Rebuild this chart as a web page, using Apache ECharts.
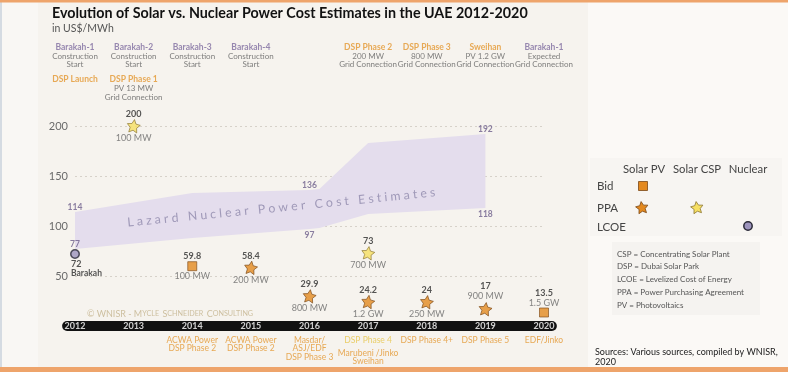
<!DOCTYPE html>
<html><head><meta charset="utf-8">
<script src="https://cdn.jsdelivr.net/npm/echarts@6/dist/echarts.min.js"></script>
<style>html,body{margin:0;padding:0;background:#f6f3ee}#c{width:788px;height:372px}</style>
</head><body><div id="c"></div>
<script>
// ---------------- data ----------------
const years = [2012, 2013, 2014, 2015, 2016, 2017, 2018, 2019, 2020];
const yTicks = [50, 100, 150, 200];

// Lazard nuclear cost band (low / high), US$/MWh
const bandX    = [2012, 2014, 2016, 2016.17, 2017, 2019];
const bandLow  = [77, 88, 97, 98, 112, 118];
const bandHigh = [114, 133, 136, 137, 183, 192];
const bandLabelled = [2012, 2016, 2019];

// Solar PV bids
const pvBidYears  = [2014, 2020];
const pvBidValues = [59.8, 13.5];
const pvBidSizes  = ['100 MW', '1.5 GW'];
// Solar PV PPAs
const pvPpaYears  = [2015, 2016, 2017, 2018, 2019];
const pvPpaValues = [58.4, 29.9, 24.2, 24, 17];
const pvPpaSizes  = ['200 MW', '800 MW', '1.2 GW', '250 MW', '900 MW'];
// Solar CSP PPAs
const cspPpaYears  = [2013, 2017];
const cspPpaValues = [200, 73];
const cspPpaSizes  = ['100 MW', '700 MW'];
// Nuclear LCOE
const nucYears  = [2012];
const nucValues = [72];
const nucNames  = ['Barakah'];

// Milestones shown above the chart
const milestoneYears   = [2012, 2013, 2014, 2015, 2017, 2018, 2019, 2020];
const milestoneNuclear = [
  ['Barakah-1', 'Construction', 'Start'],
  ['Barakah-2', 'Construction', 'Start'],
  ['Barakah-3', 'Construction', 'Start'],
  ['Barakah-4', 'Construction', 'Start'],
  null, null, null,
  ['Barakah-1', 'Expected', 'Grid Connection']
];
const milestoneSolar = [
  ['DSP Launch'],
  ['DSP Phase 1', 'PV 13 MW', 'Grid Connection'],
  null, null,
  ['DSP Phase 2', '200 MW', 'Grid Connection'],
  ['DSP Phase 3', '800 MW', 'Grid Connection'],
  ['Sweihan', 'PV 1.2 GW', 'Grid Connection'],
  null
];

// Project names under the timeline
const projectYears = [2014, 2015, 2016, 2017, 2018, 2019, 2020];
const projectCsp = [null, null, null, ['DSP Phase 4'], null, null, null];
const projectPv  = [
  ['ACWA Power', 'DSP Phase 2'],
  ['ACWA Power', 'DSP Phase 2'],
  ['Masdar/', 'ASJ/EDF', 'DSP Phase 3'],
  ['Marubeni /Jinko', 'Sweihan'],
  ['DSP Phase 4+'],
  ['DSP Phase 5'],
  ['EDF/Jinko']
];

const definitions = [
  'CSP = Concentrating Solar Plant',
  'DSP = Dubai Solar Park',
  'LCOE = Levelized Cost of Energy',
  'PPA = Power Purchasing Agreement',
  'PV = Photovoltaics'
];

// ---------------- styles ----------------
const FONT = 'Lato, "Noto Sans", sans-serif';
const STAR = 'path://M50,0L64.69,29.78L97.55,34.55L73.78,57.73L79.39,90.45L50,75L20.61,90.45L26.22,57.73L2.45,34.55L35.31,29.78Z';
const C = {
  orange: '#e3891f', orangeBorder: '#7a4716',
  yellow: '#f6df62', yellowBorder: '#8a7430',
  nuc: '#9d94bd', nucBorder: '#2b2a38',
  band: '#e4dded', bandText: '#6d5e8b',
  purple: '#7e6b9f', orangeText: '#e3962e', yellowText: '#e6c447',
  gray: '#666', dark: '#2a2a2a'
};
const HIDDEN = { color: 'rgba(0,0,0,0)' };

const valueRich = {
  v: { fontFamily: FONT, fontSize: 9, fontWeight: 'bold', color: C.dark, lineHeight: 10, align: 'center' },
  c: { fontFamily: FONT, fontSize: 9, color: C.gray, lineHeight: 10, align: 'center' },
  g: { fontSize: 1, lineHeight: 14 },
  gs: { fontSize: 1, lineHeight: 10 }
};

function pointData(xs, vs, sizes, gapKey) {
  return xs.map((x, i) => {
    const v = vs[i];
    if (v < 20) {
      return { value: [x, v], label: { position: 'top', distance: 0, formatter: `{v|${v}}\n{c|${sizes[i]}}` } };
    }
    return { value: [x, v], label: { position: 'inside', formatter: `{v|${v}}\n{${gapKey}| }\n{c|${sizes[i]}}` } };
  });
}

// milestone labels
const msRich = {
  p: { fontFamily: FONT, fontSize: 8.5, fontWeight: 'bold', color: C.purple, lineHeight: 8.7, align: 'center' },
  o: { fontFamily: FONT, fontSize: 8.5, fontWeight: 'bold', color: C.orangeText, lineHeight: 8.7, align: 'center' },
  g: { fontFamily: FONT, fontSize: 8, color: '#606060', lineHeight: 8.7, align: 'center' },
  s: { fontSize: 1, lineHeight: 6.3 }
};
function block(lines, head) {
  return lines.map((t, i) => `{${i === 0 ? head : 'g'}|${t}}`);
}
const msData = milestoneYears.map((y, i) => {
  let parts = [];
  if (milestoneNuclear[i]) parts = parts.concat(block(milestoneNuclear[i], 'p'));
  if (milestoneSolar[i]) {
    if (parts.length) parts.push('{s| }');
    parts = parts.concat(block(milestoneSolar[i], 'o'));
  }
  return { value: [y, 1], label: { formatter: parts.join('\n') } };
});

const prRich = {
  o: { fontFamily: FONT, fontSize: 8.5, color: C.orangeText, lineHeight: 8.5, align: 'center' },
  y: { fontFamily: FONT, fontSize: 8.5, color: C.yellowText, lineHeight: 8.5, align: 'center' },
  s: { fontSize: 1, lineHeight: 4.5 }
};
const prData = projectYears.map((y, i) => {
  let parts = [];
  if (projectCsp[i]) parts = parts.concat(projectCsp[i].map(t => `{y|${t}}`));
  if (projectPv[i]) {
    if (parts.length) parts.push('{s| }');
    parts = parts.concat(projectPv[i].map(t => `{o|${t}}`));
  }
  return { value: [y, 0], label: { formatter: parts.join('\n') } };
});

// band labels
const bandLabelData = [];
bandX.forEach((x, i) => {
  if (!bandLabelled.includes(x)) return;
  bandLabelData.push({ value: [x, bandHigh[i]], label: { position: 'top', distance: 0, formatter: String(bandHigh[i]) } });
  const lowAbove = nucYears.includes(x);
  bandLabelData.push({ value: [x, bandLow[i]], label: { position: lowAbove ? 'top' : 'bottom', distance: lowAbove ? 0 : 1, formatter: String(bandLow[i]) } });
});

const lazardText = 'Lazard Nuclear Power Cost Estimates'.split(' ').map(w => w.split('').join(' ')).join('   ');

// legend drawing helpers
function starShape(cx, cy, s, fill, stroke) {
  const pts = [];
  for (let k = 0; k < 10; k++) {
    const ang = (-90 - 8 + k * 36) * Math.PI / 180;
    const rad = (k % 2 === 0 ? 1 : 0.5) * s / 2;
    pts.push([cx + rad * Math.cos(ang), cy + 2 + rad * Math.sin(ang)]);
  }
  return { type: 'polygon', shape: { points: pts }, style: { fill, stroke, lineWidth: 0.8 } };
}
function txt(x, y, text, size, color, extra) {
  return { type: 'text', x, y, style: Object.assign({ text, font: `${size}px ${FONT}`, fill: color, textVerticalAlign: 'middle' }, extra || {}) };
}

const graphics = [
  { type: 'rect', shape: { x: 0, y: 0, width: 38, height: 372 }, style: { fill: '#f9f7f4' }, z: -20 },
  { type: 'rect', shape: { x: 0, y: 0, width: 2, height: 372 }, style: { fill: '#d5dbe2' }, z: -19 },
  { type: 'rect', shape: { x: 588, y: 2, width: 200, height: 366 }, style: { fill: '#fbf9f6' }, z: -20 },
  { type: 'rect', shape: { x: 590, y: 158, width: 192, height: 78 }, style: { fill: '#f7f5f2' }, z: -19 },
  { type: 'rect', shape: { x: 612, y: 242, width: 148, height: 73 }, style: { fill: '#f5f3f0' }, z: -19 },
  { type: 'rect', shape: { x: 0, y: 0, width: 788, height: 2.5 }, style: { fill: '#eea46b' }, z: 10 },
  { type: 'rect', shape: { x: 0, y: 367, width: 788, height: 5 }, style: { fill: '#eea46b' }, z: 10 },
  // legend table
  txt(644, 169, 'Solar PV', 11.3, '#444', { textAlign: 'center' }),
  txt(697, 169, 'Solar CSP', 11.3, '#444', { textAlign: 'center' }),
  txt(748, 169, 'Nuclear', 11.3, '#444', { textAlign: 'center' }),
  txt(597, 186, 'Bid', 11.5, '#444'),
  txt(597, 208, 'PPA', 11.5, '#444'),
  txt(597, 227, 'LCOE', 11.5, '#444'),
  { type: 'rect', shape: { x: 638.5, y: 181.5, width: 9, height: 9 }, style: { fill: C.orange, stroke: C.orangeBorder, lineWidth: 0.8 } },
  starShape(642, 206, 13, C.orange, C.orangeBorder),
  starShape(697, 206, 13, C.yellow, C.yellowBorder),
  { type: 'circle', shape: { cx: 748, cy: 226, r: 4.2 }, style: { fill: C.nuc, stroke: C.nucBorder, lineWidth: 1.5 } },
  // watermark
  { type: 'text', x: 170, y: 314, style: { text: '{a|© WNISR - M}{b|YCLE} {a|S}{b|CHNEIDER} {a|C}{b|ONSULTING}', textAlign: 'center', textVerticalAlign: 'middle',
      rich: { a: { fontFamily: FONT, fontSize: 9, fill: '#cdbf9f', color: '#cdbf9f' }, b: { fontFamily: FONT, fontSize: 7.2, fill: '#cdbf9f', color: '#cdbf9f' } } } },
  // sources
  txt(595, 352, 'Sources: Various sources, compiled by WNISR,', 9, '#222'),
  txt(595, 362, '2020', 9, '#222')
];
definitions.forEach((d, i) => graphics.push(txt(617, 254 + i * 12.75, d, 8, '#555')));

const option = {
  backgroundColor: '#f6f3ee',
  animation: false,
  title: [
    { text: 'Evolution of Solar vs. Nuclear Power Cost Estimates in the UAE 2012-2020', left: 47, top: 1,
      textStyle: { fontFamily: FONT, fontSize: 14.3, fontWeight: 'bold', color: '#111' } },
    { text: 'in US$/MWh', left: 47, top: 18, textStyle: { fontFamily: FONT, fontSize: 10.5, fontWeight: 'normal', color: '#555' } }
  ],
  graphic: { elements: graphics },
  grid: [
    { left: 75, right: 244, top: 126, height: 200 },
    { left: 75, right: 244, top: 42.5, height: 10 }
  ],
  xAxis: [
    { type: 'value', gridIndex: 0, min: 2012, max: 2020, show: false },
    { type: 'value', gridIndex: 1, min: 2012, max: 2020, show: false }
  ],
  yAxis: [
    { type: 'value', gridIndex: 0, min: 0, max: 200, interval: 50,
      axisLine: { show: false }, axisTick: { show: false },
      axisLabel: { fontFamily: FONT, fontSize: 11, color: '#6a6a6a', margin: 7, formatter: v => (yTicks.includes(v) ? String(v) : '') },
      splitLine: { lineStyle: { color: '#d6d1c9', type: [2, 3], width: 1 } } },
    { type: 'value', gridIndex: 1, min: 0, max: 1, show: false }
  ],
  series: [
    // Lazard band (polygon built from high edge then low edge)
    { type: 'custom', data: [[bandX[0], bandLow[0]]], clip: false, silent: true, z: 1,
      renderItem: (params, api) => {
        const top = bandX.map((x, i) => api.coord([x, bandHigh[i]]));
        const bot = bandX.map((x, i) => api.coord([x, bandLow[i]])).reverse();
        return { type: 'polygon', shape: { points: top.concat(bot) }, style: { fill: C.band } };
      } },
    // band labels
    { type: 'scatter', data: bandLabelData, symbolSize: 1, itemStyle: HIDDEN, clip: false, z: 3,
      label: { show: true, fontFamily: FONT, fontSize: 8.5, fontWeight: 'bold', color: C.bandText } },
    // lazard text
    { type: 'scatter', data: [[2015.52, 118.5]], symbolSize: 1, itemStyle: HIDDEN, z: 3,
      label: { show: true, position: 'inside', rotate: 5.6, formatter: lazardText, fontFamily: FONT, fontSize: 12.3, color: '#8f88ab' } },
    // timeline bar
    { type: 'custom', data: [[2011.78, 0]], clip: false, silent: true, z: 4,
      renderItem: (params, api) => {
        const a = api.coord([2011.78, 0]);
        const b = api.coord([2020.22, 0]);
        return { type: 'rect', shape: { x: a[0], y: a[1] - 5, width: b[0] - a[0], height: 10, r: 5 }, style: { fill: '#111' } };
      } },
    { type: 'scatter', data: years.map(y => [y, 0]), symbolSize: 1, itemStyle: HIDDEN, clip: false, z: 5,
      label: { show: true, position: 'inside', formatter: p => String(p.value[0]), fontFamily: FONT, fontSize: 9, fontWeight: 'bold', color: '#fff' } },
    // project names under timeline
    { type: 'scatter', data: prData, symbolSize: 1, itemStyle: HIDDEN, clip: false, z: 5,
      label: { show: true, position: 'bottom', distance: 9.5, rich: prRich } },
    // milestones
    { type: 'scatter', xAxisIndex: 1, yAxisIndex: 1, data: msData, symbolSize: 1, itemStyle: HIDDEN, clip: false, z: 5,
      label: { show: true, position: 'bottom', distance: 0, rich: msRich } },
    // Solar PV bids
    { type: 'scatter', name: 'Solar PV Bid', data: pointData(pvBidYears, pvBidValues, pvBidSizes, 'gs'), symbol: 'rect', symbolSize: 9, clip: false, z: 6,
      itemStyle: { color: C.orange, borderColor: C.orangeBorder, borderWidth: 0.8 }, label: { show: true, rich: valueRich } },
    // Solar PV PPAs
    { type: 'scatter', name: 'Solar PV PPA', data: pointData(pvPpaYears, pvPpaValues, pvPpaSizes, 'g'), symbol: STAR, symbolSize: 13, symbolRotate: -8, clip: false, z: 6,
      itemStyle: { color: C.orange, borderColor: C.orangeBorder, borderWidth: 0.8 }, label: { show: true, rich: valueRich } },
    // Solar CSP PPAs
    { type: 'scatter', name: 'Solar CSP PPA', data: pointData(cspPpaYears, cspPpaValues, cspPpaSizes, 'g'), symbol: STAR, symbolSize: 13, symbolRotate: -8, clip: false, z: 6,
      itemStyle: { color: C.yellow, borderColor: C.yellowBorder, borderWidth: 0.8 }, label: { show: true, rich: valueRich } },
    // Nuclear LCOE
    { type: 'scatter', name: 'Nuclear LCOE', data: nucYears.map((x, i) => ({ value: [x, nucValues[i]], label: { formatter: `{n|${nucValues[i]}}\n{m|${nucNames[i]}}` } })),
      symbol: 'circle', symbolSize: 8.5, clip: false, z: 6,
      itemStyle: { color: C.nuc, borderColor: C.nucBorder, borderWidth: 1.5 },
      label: { show: true, position: 'bottom', distance: 1, align: 'left', offset: [-4, 0],
        rich: { n: { fontFamily: FONT, fontSize: 9, fontWeight: 'bold', color: C.dark, lineHeight: 9 },
                m: { fontFamily: FONT, fontSize: 8.5, fontWeight: 'bold', color: C.dark, lineHeight: 8 } } } }
  ]
};
const chart = echarts.init(document.getElementById('c'));
chart.setOption(option);
</script>
</body></html>
